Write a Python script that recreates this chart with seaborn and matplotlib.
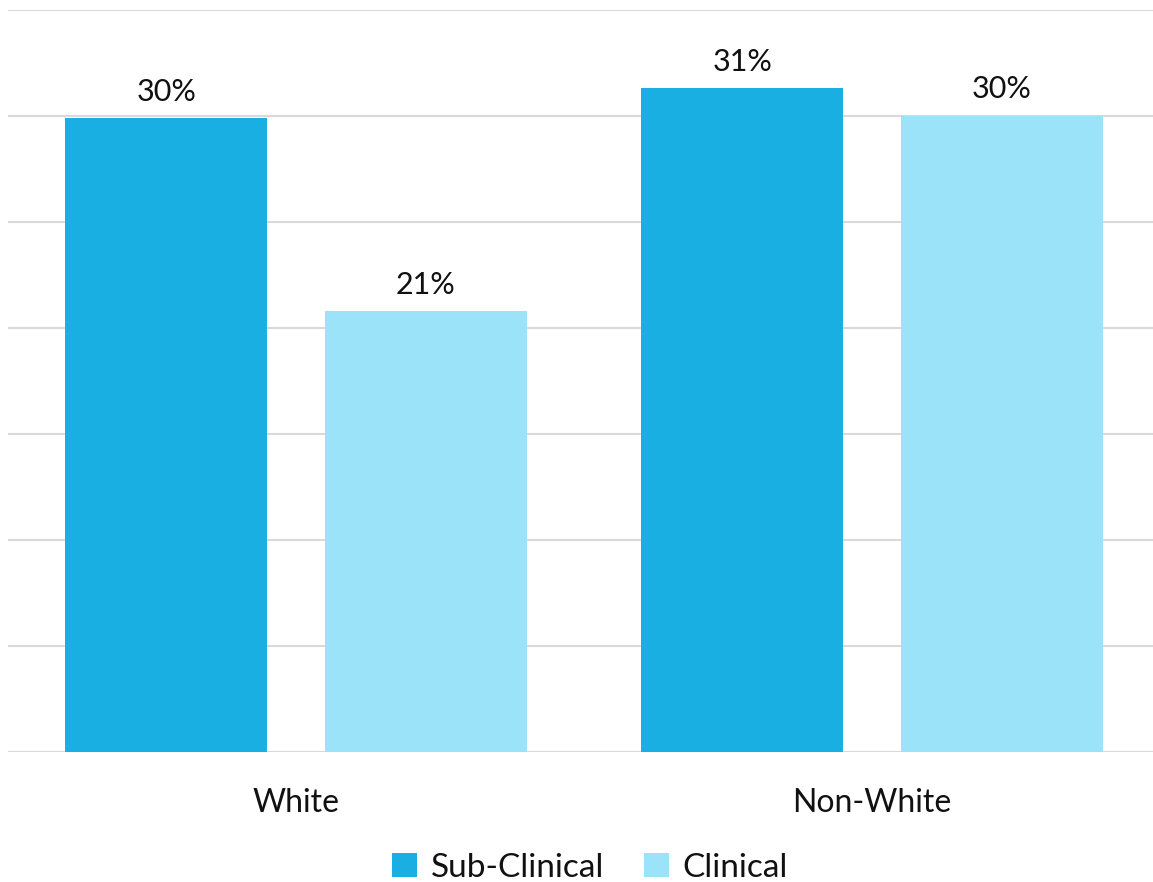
import matplotlib
matplotlib.use("Agg")
import matplotlib.pyplot as plt
import seaborn as sns
import pandas as pd

groups = ["White", "White", "Non-White", "Non-White"]
levels = ["Sub-Clinical", "Clinical", "Sub-Clinical", "Clinical"]
values = [29.9, 20.8, 31.3, 30.0]
palette = {"Sub-Clinical": "#19AFE2", "Clinical": "#9BE3F8"}

df = pd.DataFrame({"group": groups, "level": levels, "value": values})

sns.set_style("white")
plt.rcParams["font.family"] = ["Lato", "DejaVu Sans"]

fig = plt.figure(figsize=(11.53, 8.82), dpi=100)
ax = fig.add_axes([8 / 1153, 1 - 752 / 882, (1160 - 8) / 1153, (752 - 10) / 882])

sns.barplot(data=df, x="group", y="value", hue="level", palette=palette,
            width=0.9, gap=0.22, saturation=1, linewidth=0, ax=ax, zorder=3)

for cont in ax.containers:
    ax.bar_label(cont, labels=[f"{v:.0f}%" for v in cont.datavalues],
                 padding=9, fontsize=22, color="#111111")

ax.set_ylim(0, 35)
ax.set_xlim(-0.5, 1.5)
ax.set_yticks(range(0, 36, 5))
ax.set_yticklabels([])
ax.tick_params(axis="y", length=0)
ax.tick_params(axis="x", length=0, pad=26, labelsize=23, labelcolor="#111111")
ax.grid(axis="y", color="#d9d9d9", linewidth=1.5, zorder=0)
ax.set_xlabel("")
ax.set_ylabel("")
sns.despine(ax=ax, left=True, bottom=True)

ax.legend(loc="center", bbox_to_anchor=((590 - 8) / 1152, -0.156), ncol=2, frameon=False,
          fontsize=24, handlelength=0.75, handleheight=0.75, handletextpad=0.4,
          columnspacing=1.2, labelcolor="#111111")

fig.savefig("out.png", dpi=100)
